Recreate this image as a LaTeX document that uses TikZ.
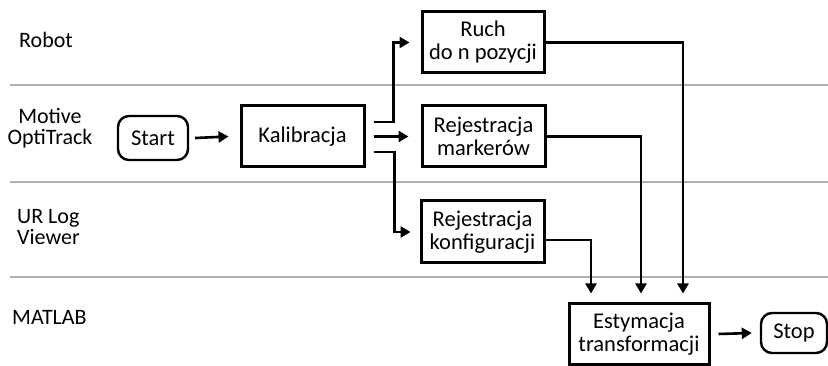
\documentclass[tikz,border=0pt]{standalone}
\usepackage{fontspec}
\setmainfont{Carlito}
\usetikzlibrary{arrows.meta,calc}
\definecolor{lane}{HTML}{B8ACA2}
\tikzset{
  box/.style={draw,line width=3pt,minimum width=123pt,minimum height=61pt,inner sep=2pt,align=center,font=\fontsize{22.5}{23}\selectfont},
  term/.style={draw,line width=2.4pt,rounded corners=11pt,inner sep=2pt,align=center,font=\fontsize{22.5}{23}\selectfont},
  lbl/.style={inner sep=0pt,font=\fontsize{22}{21}\selectfont},
  arr/.style={line width=2.6pt,-{Triangle[length=10pt,width=11pt]}},
  laneline/.style={draw=lane,line width=1.6pt}
}
\begin{document}
\begin{tikzpicture}[x=1pt,y=-1pt]
\useasboundingbox (0,0) rectangle (828,366);
% lane separators
\draw[laneline] (10,85) -- (828,85);
\draw[laneline] (10,182) -- (828,182);
\draw[laneline] (10,277) -- (828,277);
% lane labels
\node[lbl,anchor=west] (lrobot) at (19,40) {Robot};
\node[lbl,align=center] (lmotive) at (50,128) {Motive\\OptiTrack};
\node[lbl,align=left,anchor=west] (lur) at (17,227) {UR Log\\Viewer};
\node[lbl,anchor=west] (lmat) at (12,317) {MATLAB};
% nodes
\node[term,minimum width=70pt,minimum height=44pt] (start) at (153,138) {Start};
\node[box] (kal) at (302.5,136.5) {Kalibracja};
\node[box,minimum width=122pt] (ruch) at (483,42.5) {Ruch\\do n pozycji};
\node[box] (mark) at (483.5,136.5) {Rejestracja\\marker\'ow};
\node[box,minimum height=62pt] (konf) at (482.5,232) {Rejestracja\\konfiguracji};
\node[box,minimum width=140pt,minimum height=60pt] (est) at (639,334) {Estymacja\\transformacji};
\node[term,minimum width=66pt,minimum height=40pt] (stop) at (794,333) {Stop};
% connectors
\draw[arr] ([xshift=6pt]start.east) -- ([xshift=-11pt]kal.west);
\draw[arr] ($(kal.east)+(8,-14.5)$) -- ++(20,0) |- ([xshift=-11pt]ruch.west);
\draw[arr] ($(kal.east)+(8,0)$) -- ([xshift=-12pt]mark.west);
\draw[arr] ($(kal.east)+(8,15.5)$) -- ++(21,0) |- ([xshift=-9pt]konf.west);
\draw[arr] (ruch.east) -| ($(est.north)+(44,-9)$);
\draw[arr] (mark.east) -| ($(est.north)+(2,-9)$);
\draw[arr] ([yshift=-8pt]konf.east) -| ($(est.north)+(-48,-9)$);
\draw[arr] ([xshift=8pt]est.east) -- ([xshift=-8pt]stop.west);
\end{tikzpicture}
\end{document}
